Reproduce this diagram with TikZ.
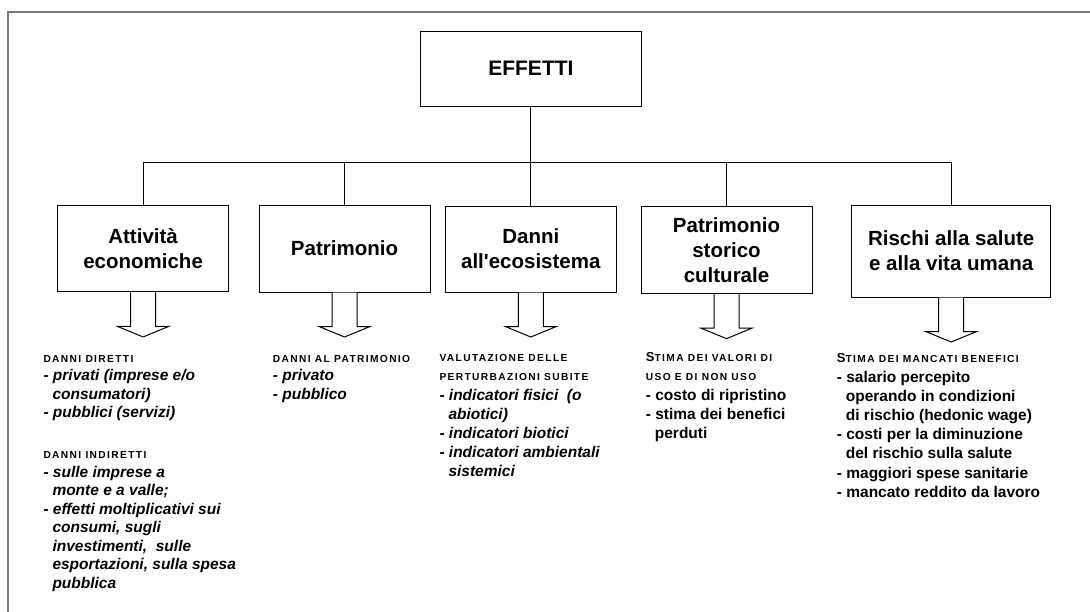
\documentclass[tikz,border=0pt]{standalone}
\usepackage{fontspec}
\setmainfont{Liberation Sans}
\newfontfamily\headfont{Liberation Sans}[LetterSpace=13.5]
\usetikzlibrary{calc}

% small-caps style headings: a larger initial and smaller spaced capitals
\newcommand\capsline[1]{{\headfont\bfseries\fontsize{10.2}{10}\selectfont #1}}
\newcommand\capinit[1]{{\headfont\bfseries\fontsize{13}{10}\selectfont #1}}
\newcommand\bi{\bfseries\itshape}
\newcommand\bu{\bfseries}
\newcommand\cont{\hspace*{9pt}}

\tikzset{
  frameline/.style={draw=black!52, line width=2pt},
  titlebox/.style={draw, line width=1pt, inner sep=0pt, align=center,
    font=\bfseries\fontsize{20.5}{25}\selectfont},
  link/.style={draw, line width=1.1pt},
  hollowarrow/.style={draw, line width=1pt, fill=white, line join=miter},
  notes/.style={anchor=north west, inner sep=0pt, align=left},
}

\newcommand\hollowdown[1]{%
  \draw[hollowarrow] ($(#1.south)+(-12.5,0)$) -- ++(0,34) -- ++(-13,0)
    -- ($(#1.south)+(0,44.5)$) -- ($(#1.south)+(25.5,34)$) -- ++(-13,0)
    -- ($(#1.south)+(12.5,0)$);}

\begin{document}
\begin{tikzpicture}[x=1pt,y=-1pt]
  \useasboundingbox (0,0) rectangle (1090,611);

  % outer frame (only top and left edges fall inside the page)
  \draw[frameline] (1095,12) -- (8.3,12) -- (8.3,615);

  % root
  \node[titlebox, minimum width=220.3pt, minimum height=75pt,
        font=\bfseries\fontsize{21}{25}\selectfont] (effetti) at (530.9,68.5) {EFFETTI};

  % categories
  \node[titlebox, minimum width=171.7pt, minimum height=86.7pt] (att) at (143.1,248.6) {Attività\\economiche};
  \node[titlebox, minimum width=171pt, minimum height=87pt] (pat) at (344.5,248.5) {Patrimonio};
  \node[titlebox, minimum width=170.7pt, minimum height=86pt] (eco) at (530.8,249) {Danni\\all\textquotesingle ecosistema};
  \node[titlebox, minimum width=171pt, minimum height=86.7pt] (sto) at (726.5,250.3) {Patrimonio\\storico\\culturale};
  \node[titlebox, minimum width=198.5pt, minimum height=92pt] (ris) at (951.2,251) {Rischi alla salute\\e alla vita umana};

  % tree connectors
  \draw[link] (effetti.south) -- ++(0,55.7) coordinate (hub);
  \foreach \b in {att,pat,eco,sto,ris}{
    \draw[link] (hub) -| (\b.north);
  }

  % hollow arrows below each category
  \hollowdown{att}
  \hollowdown{pat}
  \hollowdown{eco}
  \hollowdown{sto}
  \hollowdown{ris}

  % descriptions
  \node[notes, font=\fontsize{15.5}{18.5}\selectfont] (t1) at (43.3,355) {%
    \capsline{DANNI DIRETTI}\\
    \bi - privati (imprese e/o\\
    \bi \cont consumatori)\\
    \bi - pubblici (servizi)\\[22.5pt]
    \capsline{DANNI INDIRETTI}\\
    \bi - sulle imprese a\\
    \bi \cont monte e a valle;\\
    \bi - effetti moltiplicativi sui\\
    \bi \cont consumi, sugli\\
    \bi \cont investimenti,\ \ sulle\\
    \bi \cont esportazioni, sulla spesa\\
    \bi \cont pubblica};

  \node[notes, font=\fontsize{15.5}{18.5}\selectfont] (t2) at (272.7,355) {%
    \capsline{DANNI AL PATRIMONIO}\\
    \bi - privato\\
    \bi - pubblico};

  \node[notes, font=\fontsize{15.5}{19.2}\selectfont] (t3) at (439.3,354.4) {%
    \capsline{VALUTAZIONE DELLE}\\
    \capsline{PERTURBAZIONI SUBITE}\\
    \bi - indicatori fisici\ \ (o\\
    \bi \cont abiotici)\\
    \bi - indicatori biotici\\
    \bi - indicatori ambientali\\
    \bi \cont sistemici};

  \node[notes, font=\fontsize{15.5}{19.2}\selectfont] (t4) at (645.7,352.4) {%
    \capinit{S}\capsline{TIMA DEI VALORI DI}\\
    \capsline{USO E DI NON USO}\\
    \bu - costo di ripristino\\
    \bu - stima dei benefici\\
    \bu \cont perduti};

  \node[notes, font=\fontsize{15.5}{19.2}\selectfont] (t5) at (836.7,353.7) {%
    \capinit{S}\capsline{TIMA DEI MANCATI BENEFICI}\\
    \bu - salario percepito\\
    \bu \cont operando in condizioni\\
    \bu \cont di rischio (hedonic wage)\\
    \bu - costi per la diminuzione\\
    \bu \cont del rischio sulla salute\\
    \bu - maggiori spese sanitarie\\
    \bu - mancato reddito da lavoro};
\end{tikzpicture}
\end{document}
